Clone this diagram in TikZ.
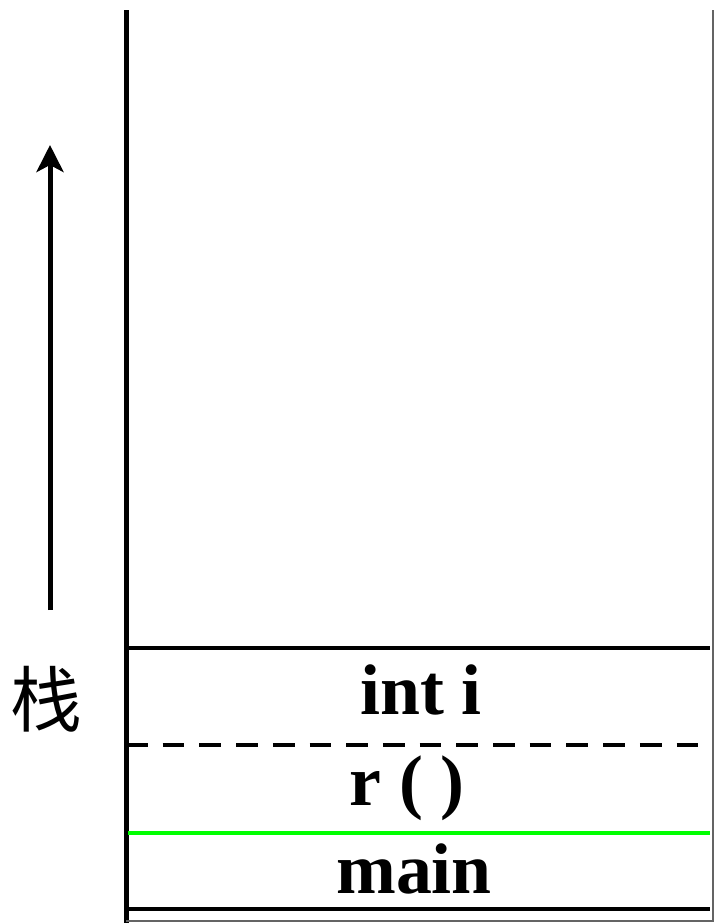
\documentclass[tikz,border=0pt]{standalone}
\usepackage{fontspec}
\setmainfont{Liberation Serif}
\newfontfamily\cjk{Noto Sans CJK SC}
\usetikzlibrary{arrows.meta}
\definecolor{stkgreen}{RGB}{0,255,0}
\definecolor{stkgray}{RGB}{100,100,100}

\begin{document}
\begin{tikzpicture}[x=1bp, y=-1bp,
    frameline/.style={line width=4.5bp},
    framelabel/.style={anchor=base, inner sep=0pt, font=\fontsize{72}{80}\selectfont\bfseries}]
    \useasboundingbox (0,0) rectangle (715,923);

    % stack wall
    \coordinate (walltop) at (126,10);
    \coordinate (wallbot) at (126,923);
    \draw[line width=5bp] (walltop) -- (wallbot);
    \coordinate (edgetop) at (713,10);
    \coordinate (edgebot) at (713,921);
    \coordinate (floorleft) at (126,921);
    \draw[stkgray, line width=1.2bp] (edgetop) -- (edgebot) -- (floorleft);

    % frame borders
    \coordinate (topL) at (126,648);  \coordinate (topR) at (710,648);
    \coordinate (midL) at (126,745);  \coordinate (midR) at (710,745);
    \coordinate (grnL) at (128,833);  \coordinate (grnR) at (710,833);
    \coordinate (botL) at (126,909);  \coordinate (botR) at (710,909);
    \draw[frameline] (topL) -- (topR);
    \draw[frameline, dash pattern=on 21.7bp off 15bp] (midL) -- (midR);
    \draw[frameline, stkgreen] (grnL) -- (grnR);
    \draw[frameline] (botL) -- (botR);

    \node[framelabel] (inti) at (421,714) {int i};
    \node[framelabel] (rfun) at (407,805) {r ( )};
    \node[framelabel] (mainf) at (414,893) {main};

    % growth direction
    \coordinate (growfrom) at (50,610);
    \coordinate (growto) at (50,145);
    \draw[line width=5bp, -{Stealth[length=27bp, width=27bp, inset=7bp]}] (growfrom) -- (growto);
    \node[inner sep=0pt] (stack) at (46,699) {\fontsize{72}{80}\selectfont\cjk 栈};
\end{tikzpicture}
\end{document}
